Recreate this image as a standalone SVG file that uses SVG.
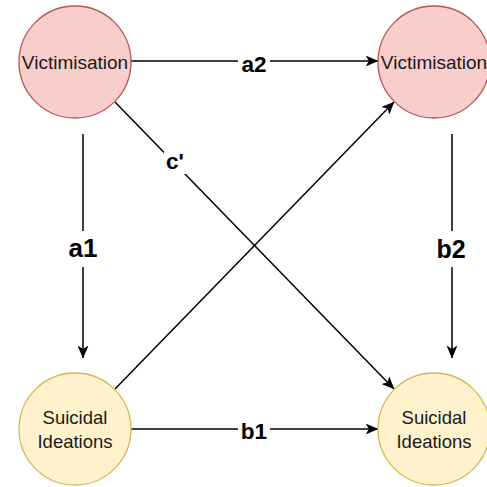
<svg xmlns="http://www.w3.org/2000/svg" width="487" height="487" viewBox="0 0 487 487">
  <style>
    .vic circle { fill: #f8cecc; stroke: #b85450; stroke-width: 1.3; }
    .sui circle { fill: #fff2cc; stroke: #d6b656; stroke-width: 1.3; }
    .node text { font-family: "Liberation Sans", Arial, sans-serif; fill: #1a1a1a; text-anchor: middle; }
    .edge { stroke: #000; stroke-width: 1.5; fill: none; marker-end: url(#arrow); }
    .lbl { font-family: "Liberation Sans", Arial, sans-serif; font-weight: bold; fill: #000; text-anchor: middle; }
    .bg { fill: #fff; }
  </style>
  <defs>
    <marker id="arrow" viewBox="0 0 13 11" refX="12.5" refY="5.5" markerWidth="13" markerHeight="11" markerUnits="userSpaceOnUse" orient="auto">
      <path d="M0,0 L13,5.5 L0,11 L3.5,5.5 Z" fill="#000"/>
    </marker>
  </defs>
  <rect width="487" height="487" fill="#fff"/>

  <g id="connectors">
    <!-- a2: victimisation to victimisation -->
    <line class="edge" x1="131" y1="61" x2="378" y2="61"/>
    <!-- b1: ideations to ideations -->
    <line class="edge" x1="131" y1="429" x2="378" y2="429"/>
    <!-- a1 -->
    <line class="edge" x1="83" y1="134" x2="83" y2="358"/>
    <!-- b2 -->
    <line class="edge" x1="452" y1="134" x2="452" y2="358"/>
    <!-- c' -->
    <line class="edge" x1="115" y1="102" x2="394" y2="389"/>
    <!-- ideations to later victimisation -->
    <line class="edge" x1="115" y1="389" x2="394" y2="102"/>

    <rect class="bg" x="238" y="51" width="32" height="22"/>
    <text class="lbl" x="254" y="72" font-size="22.5">a2</text>
    <rect class="bg" x="238" y="418" width="32" height="24"/>
    <text class="lbl" x="254" y="439" font-size="22.5">b1</text>
    <rect class="bg" x="64" y="231" width="38" height="36"/>
    <text class="lbl" x="83" y="257" font-size="26">a1</text>
    <rect class="bg" x="433" y="231" width="38" height="36"/>
    <text class="lbl" x="451" y="258" font-size="25">b2</text>
    <rect class="bg" x="164" y="146" width="22" height="28"/>
    <text class="lbl" x="175" y="169" font-size="22.5">c'</text>
  </g>

  <g id="victimisation-t1" class="node vic">
    <circle cx="75" cy="62" r="56"/>
    <text x="75" y="69" font-size="19">Victimisation</text>
  </g>
  <g id="victimisation-t2" class="node vic">
    <circle cx="434" cy="62" r="56"/>
    <text x="434" y="69" font-size="19">Victimisation</text>
  </g>
  <g id="ideations-t1" class="node sui">
    <circle cx="75" cy="429" r="56"/>
    <text x="75" y="424" font-size="18.5">Suicidal</text>
    <text x="75" y="448" font-size="18.5">Ideations</text>
  </g>
  <g id="ideations-t2" class="node sui">
    <circle cx="434" cy="429" r="56"/>
    <text x="434" y="424" font-size="18.5">Suicidal</text>
    <text x="434" y="448" font-size="18.5">Ideations</text>
  </g>
</svg>
